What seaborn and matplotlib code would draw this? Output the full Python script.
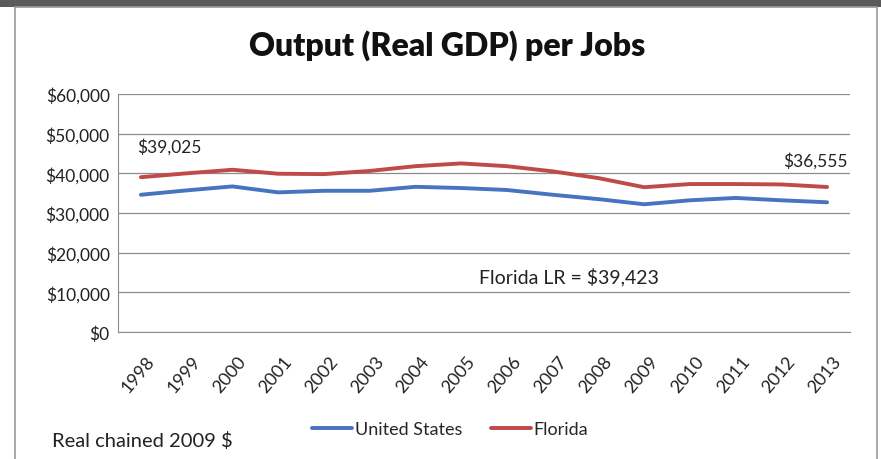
import matplotlib
matplotlib.use("Agg")
import matplotlib.pyplot as plt
import matplotlib.transforms as mtransforms
import seaborn as sns
import pandas as pd
from matplotlib.patches import Rectangle
from matplotlib.ticker import FuncFormatter

years = ["1998", "1999", "2000", "2001", "2002", "2003", "2004", "2005",
         "2006", "2007", "2008", "2009", "2010", "2011", "2012", "2013"]
us_values = [34600, 35700, 36700, 35200, 35600, 35600, 36600, 36300,
             35800, 34600, 33500, 32200, 33200, 33800, 33200, 32700]
fl_values = [39025, 40000, 40900, 39900, 39800, 40600, 41800, 42500,
             41800, 40500, 38800, 36500, 37300, 37300, 37200, 36555]
series_names = ["United States", "Florida"]
colors = ["#4674C1", "#BE4B48"]
florida_lr = 39423

df = pd.DataFrame({
    "Year": years * 2,
    "Value": us_values + fl_values,
    "Region": [series_names[0]] * len(years) + [series_names[1]] * len(years),
})

sns.set_style("white")
plt.rcParams["font.family"] = ["Lato", "DejaVu Sans"]

fig = plt.figure(figsize=(8.81, 4.6), dpi=100)
fig.patch.set_facecolor("white")

# outer frame of the chart card
fig.patches.append(Rectangle((0, 1 - 8 / 460), 1, 8 / 460, transform=fig.transFigure,
                             facecolor="#5a5a5a", edgecolor="none", zorder=0))
fig.patches.append(Rectangle((15 / 881, -0.01), (877 - 15) / 881, 1 - 8 / 460 + 0.01,
                             transform=fig.transFigure, facecolor="none",
                             edgecolor="#9a9a9a", linewidth=1.2, zorder=0))

ax = fig.add_axes([118 / 881, 1 - 333 / 460, (850 - 118) / 881, (333 - 95) / 460])
sns.lineplot(data=df, x="Year", y="Value", hue="Region", palette=colors,
             hue_order=series_names, linewidth=2.8, ax=ax, legend=False, sort=False)

ax.set_xlim(-0.5, len(years) - 0.5)
ax.set_ylim(0, 60000)
ax.set_yticks(range(0, 60001, 10000))
ax.yaxis.set_major_formatter(FuncFormatter(lambda v, p: f"${v:,.0f}"))
ax.grid(axis="y", color="#8c8c8c", linewidth=0.9)
ax.set_axisbelow(True)
for side in ["top", "right"]:
    ax.spines[side].set_visible(False)
ax.spines["left"].set_color("#8c8c8c")
ax.spines["bottom"].set_color("#8c8c8c")
ax.set_xlabel("")
ax.set_ylabel("")
ax.tick_params(axis="y", labelsize=12.5, length=0, pad=6, colors="#222222")
ax.tick_params(axis="x", labelsize=13, length=0, pad=15, colors="#222222")
shift = mtransforms.ScaledTranslation(5 / 100, 0, fig.dpi_scale_trans)
for lbl in ax.get_xticklabels():
    lbl.set_rotation(50)
    lbl.set_ha("right")
    lbl.set_rotation_mode("anchor")
    lbl.set_transform(lbl.get_transform() + shift)

ax.annotate(f"${fl_values[0]:,}", xy=(0, fl_values[0]), xytext=(-3, 16),
            textcoords="offset points", fontsize=12.5, ha="left", va="bottom", color="#222222")
ax.annotate(f"${fl_values[-1]:,}", xy=(len(years) - 1, fl_values[-1]), xytext=(15, 13),
            textcoords="offset points", fontsize=12.5, ha="right", va="bottom", color="#222222")
ax.text(7.4, 14000, f"Florida LR = ${florida_lr:,}", fontsize=14, ha="left",
        va="center", color="#222222")

fig.text(447 / 881, 1 - 46 / 460, "Output (Real GDP) per Jobs", ha="center", va="center",
         fontsize=23, fontweight="heavy", color="#111111")
fig.text(52 / 881, 1 - 441 / 460, "Real chained 2009 $", ha="left", va="center",
         fontsize=14.5, color="#222222")

handles = [plt.Line2D([], [], color=c, linewidth=2.8) for c in colors]
fig.legend(handles, series_names, loc="center", bbox_to_anchor=(450 / 881, 1 - 430 / 460),
           ncol=2, frameon=False, fontsize=13, handlelength=2.2, handletextpad=0.15,
           columnspacing=1.6, borderpad=0)

fig.savefig("out.png", dpi=100)
